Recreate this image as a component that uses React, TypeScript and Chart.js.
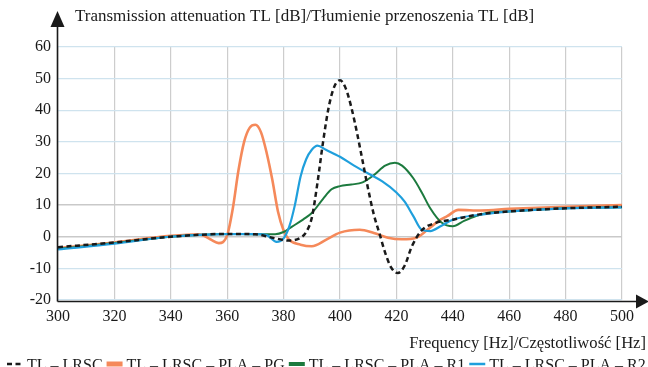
import React, { useEffect, useRef } from "react";
import { Chart, registerables } from "chart.js";

Chart.register(...registerables);

// ---- Data ----
const freqLRSC = [300, 320, 340, 360, 370, 376, 382, 386, 388, 390, 392, 394, 396, 398, 400, 402, 404, 406, 408, 410, 412, 414, 416, 418, 420.5, 423, 425.5, 429, 434, 440, 449, 460, 480, 500];
const tlLRSC = [-3.3, -1.8, 0, 0.9, 0.8, -0.3, -1.2, -0.3, 1.5, 6, 17, 30, 41, 47.5, 49.5, 47, 41, 33, 24, 15, 7, 1, -5, -9.5, -11.5, -9, -3, 2, 4.4, 5.4, 7, 8, 9, 9.5];

const freqPG = [300, 320, 340, 350, 354, 357, 360, 362, 364, 366, 368, 370, 372, 374, 376, 378, 380, 382, 386, 390, 395, 400, 407, 412, 417, 422, 427, 431, 435, 438, 442, 450, 460, 480, 500];
const tlPG = [-3.6, -1.8, 0.3, 0.8, -0.8, -2, 0.5, 9, 21, 30, 34.5, 35.4, 33, 26.5, 18, 8, 2, -1, -2.5, -3, -1, 1.3, 2.2, 1.2, -0.3, -0.8, -0.3, 2.2, 5, 6.5, 8.5, 8.3, 8.8, 9.5, 10];

const freqR1 = [300, 320, 340, 360, 370, 377, 380, 383, 387, 390, 394, 397, 400, 404, 408, 412, 416, 419.5, 422, 426, 429, 432, 436, 440, 444, 448, 452, 460, 480, 500];
const tlR1 = [-3.8, -2, 0, 0.9, 0.8, 0.8, 1.5, 3.2, 5.5, 7.5, 12, 15, 16, 16.5, 17.2, 19.5, 22.5, 23.4, 22.5, 18.5, 14, 9, 4.5, 3.3, 5, 6.5, 7.5, 8, 9, 9.3];

const freqR2 = [300, 320, 340, 360, 370, 374, 377.5, 380, 382, 384, 386, 388, 390, 392, 395, 400, 405, 410, 415, 420, 423, 426, 429, 432, 436, 440, 450, 460, 480, 500];
const tlR2 = [-4, -2.2, 0, 0.8, 0.8, 0.5, -1.6, -0.5, 3.2, 10, 19, 24.5, 27.5, 28.8, 27.5, 25.3, 22.5, 20, 17.5, 14, 11, 6.5, 2.2, 1.8, 3.5, 5.4, 7, 8, 9, 9.3];

const seriesLabels = ["TL – LRSC", "TL – LRSC – PLA – PG", "TL – LRSC – PLA – R1", "TL – LRSC – PLA – R2"];
const xTitle = "Frequency [Hz]/Częstotliwość [Hz]";
const yTitle = "Transmission attenuation TL [dB]/Tłumienie przenoszenia TL [dB]";

const xMin = 300, xMax = 500, xStep = 20;
const yMin = -20, yMax = 60, yStep = 10;

const COLORS = {
  black: "#1a1a1a",
  orange: "#f5895a",
  green: "#1c7a3e",
  blue: "#1f9fdc",
};

const FONT = "'Liberation Serif', 'Times New Roman', serif";

function pts(xs: number[], ys: number[]) {
  return xs.map((x, i) => ({ x, y: ys[i] }));
}

const overlayPlugin = {
  id: "overlay",
  afterDraw(chart: any) {
    const ctx = chart.ctx as CanvasRenderingContext2D;
    const area = chart.chartArea;
    ctx.save();
    ctx.fillStyle = "#1a1a1a";
    ctx.strokeStyle = "#1a1a1a";
    ctx.lineWidth = 1.6;
    // y axis with arrow
    const ax = area.left - 0.5;
    ctx.beginPath();
    ctx.moveTo(ax, area.bottom + 1.5);
    ctx.lineTo(ax, 24);
    ctx.stroke();
    ctx.beginPath();
    ctx.moveTo(ax, 11);
    ctx.lineTo(ax - 7, 27);
    ctx.lineTo(ax + 7, 27);
    ctx.closePath();
    ctx.fill();
    // x axis with arrow
    const ay = area.bottom + 1.5;
    ctx.beginPath();
    ctx.moveTo(ax, ay);
    ctx.lineTo(640, ay);
    ctx.stroke();
    ctx.beginPath();
    ctx.moveTo(649, ay);
    ctx.lineTo(636, ay - 7);
    ctx.lineTo(636, ay + 7);
    ctx.closePath();
    ctx.fill();

    // titles
    ctx.textBaseline = "alphabetic";
    ctx.textAlign = "left";
    ctx.font = `17px ${FONT}`;
    ctx.fillText(yTitle, 75, 21);
    ctx.textAlign = "right";
    ctx.font = `16.6px ${FONT}`;
    ctx.fillText(xTitle, 646, 348);

    // legend
    ctx.font = `16px ${FONT}`;
    ctx.textAlign = "left";
    const ly = 364;
    let x = 7;
    const datasets = chart.data.datasets;
    datasets.forEach((ds: any, i: number) => {
      ctx.save();
      ctx.strokeStyle = ds.borderColor;
      ctx.lineWidth = i === 1 ? 5 : i === 2 ? 4 : 2.5;
      ctx.setLineDash(ds.borderDash || []);
      ctx.beginPath();
      ctx.moveTo(x, ly);
      ctx.lineTo(x + 16, ly);
      ctx.stroke();
      ctx.restore();
      x += 20;
      ctx.fillStyle = "#1a1a1a";
      ctx.fillText(seriesLabels[i], x, 370);
      x += ctx.measureText(seriesLabels[i]).width + 4;
    });
    ctx.restore();
  },
};

export default function App() {
  const ref = useRef<HTMLCanvasElement | null>(null);
  useEffect(() => {
    if (!ref.current) return;
    const chart = new Chart(ref.current, {
      type: "line",
      data: {
        datasets: [
          { label: seriesLabels[0], data: pts(freqLRSC, tlLRSC), borderColor: COLORS.black, borderWidth: 2.5, borderDash: [5, 3.5], order: 0 },
          { label: seriesLabels[1], data: pts(freqPG, tlPG), borderColor: COLORS.orange, borderWidth: 2.6, order: 3 },
          { label: seriesLabels[2], data: pts(freqR1, tlR1), borderColor: COLORS.green, borderWidth: 2, order: 2 },
          { label: seriesLabels[3], data: pts(freqR2, tlR2), borderColor: COLORS.blue, borderWidth: 2.2, order: 1 },
        ],
      },
      options: {
        animation: false,
        responsive: false,
        devicePixelRatio: 1,
        parsing: false,
        elements: {
          point: { radius: 0 },
          line: { cubicInterpolationMode: "monotone", fill: false },
        },
        layout: { padding: { top: 47, right: 26, left: 0, bottom: 0 } },
        plugins: { legend: { display: false }, tooltip: { enabled: false } },
        scales: {
          x: {
            type: "linear",
            min: xMin,
            max: xMax,
            afterFit: (s: any) => { s.height = 67; },
            border: { display: false },
            grid: { color: "#cdcdcd", lineWidth: 1.2, drawTicks: false },
            ticks: { stepSize: xStep, padding: 7, color: "#1a1a1a", font: { family: FONT, size: 16 } },
          },
          y: {
            type: "linear",
            min: yMin,
            max: yMax,
            afterFit: (s: any) => { s.width = 58; },
            border: { display: false },
            grid: {
              color: (c: any) => (c.tick && (c.tick.value === 0 || c.tick.value === 10) ? "#c9c9c9" : "#cfe3ee"),
              lineWidth: (c: any) => (c.tick && (c.tick.value === 0 || c.tick.value === 10) ? 1.5 : 1.2),
              drawTicks: false,
            },
            ticks: { stepSize: yStep, padding: 7, color: "#1a1a1a", font: { family: FONT, size: 16 } },
          },
        },
      },
      plugins: [overlayPlugin],
    });
    return () => chart.destroy();
  }, []);
  return (
    <div style={{ position: "fixed", left: 0, top: 0, width: 648, height: 367, background: "#fff" }}>
      <canvas ref={ref} width={648} height={367} style={{ width: 648, height: 367, display: "block" }} />
    </div>
  );
}
